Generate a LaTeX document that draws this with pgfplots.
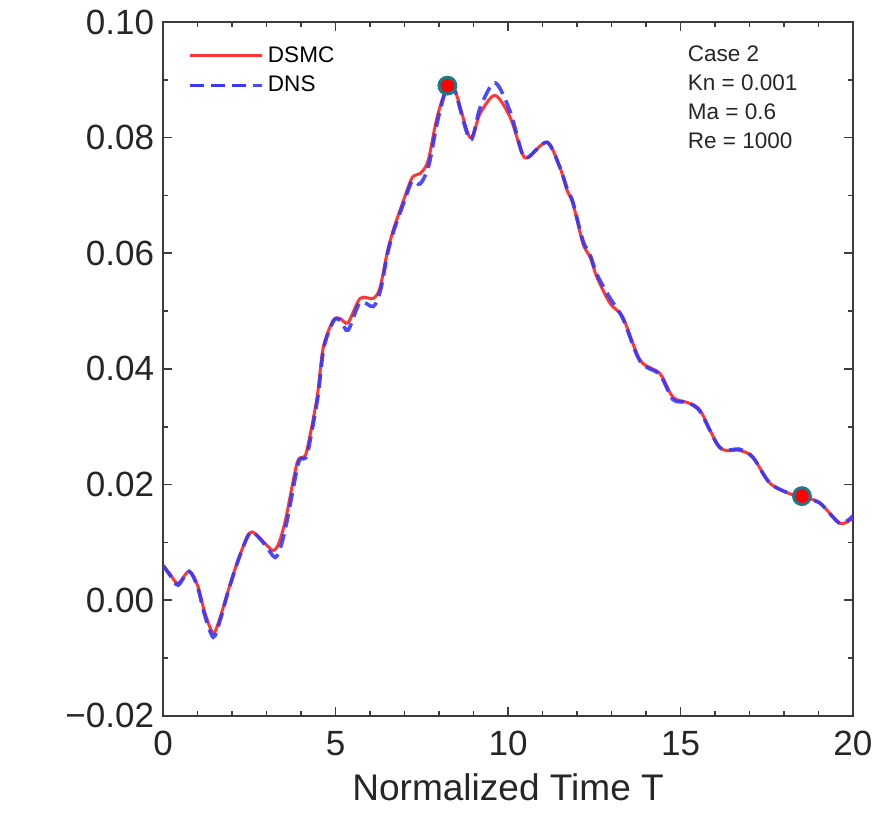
\documentclass[border=0pt]{standalone}
\usepackage{pgfplots}
\pgfplotsset{compat=1.18}
\usepackage{fontspec}
\setmainfont{Liberation Sans}
\definecolor{dsmcred}{RGB}{255,55,55}
\definecolor{dnsblue}{RGB}{55,55,255}
\definecolor{markteal}{RGB}{30,120,140}
\definecolor{axgray}{RGB}{60,60,60}
\begin{document}
\begin{tikzpicture}
\begin{axis}[
  scale only axis,
  width=344.5pt, height=346.5pt,
  xmin=0, xmax=20, ymin=-0.02, ymax=0.10,
  xtick={0,5,10,15,20},
  xticklabels={0,5,10,15,20},
  ytick={-0.02,0,0.02,0.04,0.06,0.08,0.10},
  yticklabels={−0.02,0.00,0.02,0.04,0.06,0.08,0.10},
  minor x tick num=4,
  minor y tick num=1,
  tick align=inside,
  major tick length=4.5pt,
  minor tick length=2.5pt,
  every tick/.style={axgray, line width=0.8pt},
  axis line style={axgray, line width=1.1pt},
  ticklabel style={font=\fontsize{17.5}{20}\selectfont, text=black!85},
  xticklabel style={yshift=-4pt},
  yticklabel style={xshift=-1pt},
  xlabel={Normalized Time T},
  xlabel style={font=\fontsize{18.5}{22}\selectfont, text=black!85, yshift=-2pt},
  legend style={at={(rel axis cs:0.030,0.977)}, anchor=north west, draw=none, fill=none,
    font=\fontsize{11.25}{14}\selectfont, row sep=1.5pt, inner sep=2pt},
  legend cell align=left,
  legend image code/.code={\draw[#1] (0pt,0pt) -- (30pt,0pt); \path (0pt,0pt) -- (36pt,0pt);},
  clip=true,
]
\coordinate (bl) at (rel axis cs:0,0);
\coordinate (tr) at (rel axis cs:1,1);
\addplot[dsmcred, line width=1.5pt, smooth, tension=0.5] coordinates {
(0,0.0060) (0.2,0.0045) (0.43,0.0029) (0.75,0.0050) (1.0,0.0025) (1.2,-0.0020)
(1.45,-0.0057) (1.65,-0.0030) (1.86,0.0012) (2.14,0.0064) (2.43,0.0109) (2.58,0.0118)
(2.81,0.0107) (3.0,0.0095) (3.19,0.0086) (3.35,0.0098) (3.55,0.0140) (3.88,0.0237)
(4.06,0.0247) (4.17,0.0260) (4.46,0.0350) (4.64,0.0437) (4.93,0.0484) (5.13,0.0487)
(5.36,0.0480) (5.71,0.0522) (6.09,0.0522) (6.29,0.0541) (6.49,0.0600) (6.67,0.0640)
(6.96,0.0690) (7.22,0.0731) (7.45,0.0738) (7.68,0.0760) (7.94,0.0835) (8.23,0.0887)
(8.46,0.0882) (8.9,0.0800) (9.19,0.0842) (9.62,0.0873) (10.06,0.0835) (10.4,0.0774)
(10.58,0.0766) (11.13,0.0792) (11.5,0.0749) (11.71,0.0709) (11.88,0.0686) (12.17,0.0617)
(12.38,0.0593) (12.58,0.0558) (12.96,0.0513) (13.33,0.0489) (13.83,0.0415) (14.4,0.0392)
(14.78,0.0351) (15.19,0.0342) (15.57,0.0328) (16.14,0.0264) (16.72,0.0259) (17.1,0.0247)
(17.6,0.0202) (18.26,0.0182) (18.5,0.0180) (19.04,0.0168) (19.62,0.0133) (20,0.0142)
};
\addlegendentry{DSMC}
\addplot[dnsblue, line width=1.8pt, dash pattern=on 7pt off 3.5pt, smooth, tension=0.5, opacity=0.9] coordinates {
(0,0.0060) (0.2,0.0043) (0.43,0.0026) (0.75,0.0050) (1.0,0.0022) (1.2,-0.0025)
(1.45,-0.0064) (1.65,-0.0035) (1.86,0.0010) (2.14,0.0063) (2.43,0.0108) (2.58,0.0118)
(2.81,0.0106) (3.0,0.0092) (3.25,0.0074) (3.42,0.0095) (3.6,0.0140) (3.92,0.0237)
(4.1,0.0245) (4.2,0.0258) (4.48,0.0350) (4.66,0.0437) (4.95,0.0484) (5.15,0.0483)
(5.36,0.0467) (5.71,0.0515) (6.09,0.0508) (6.3,0.0536) (6.5,0.0598) (6.68,0.0638)
(6.98,0.0688) (7.22,0.0725) (7.45,0.0720) (7.7,0.0752) (7.96,0.0830) (8.23,0.0887)
(8.46,0.0880) (8.9,0.0796) (9.19,0.0852) (9.62,0.0895) (10.06,0.0845) (10.4,0.0774)
(10.58,0.0766) (11.13,0.0792) (11.5,0.0749) (11.71,0.0712) (11.88,0.0688) (12.17,0.0622)
(12.38,0.0597) (12.58,0.0563) (12.96,0.0522) (13.33,0.0487) (13.83,0.0413) (14.4,0.0390)
(14.78,0.0347) (15.19,0.0342) (15.57,0.0326) (16.14,0.0264) (16.72,0.0261) (17.1,0.0247)
(17.6,0.0202) (18.26,0.0182) (18.5,0.0178) (19.04,0.0168) (19.62,0.0133) (20,0.0146)
};
\addlegendentry{DNS}
\addplot[only marks, mark=*, mark size=4.2pt, mark options={fill=red, draw=markteal, line width=1.5pt}, forget plot] coordinates {
(8.24,0.0890) (18.52,0.0180)
};
\node[anchor=north west, align=left, font=\fontsize{11.25}{14.5}\selectfont, text=black!85, inner sep=0pt]
  at (rel axis cs:0.760,0.967) {Case 2\\Kn = 0.001\\Ma = 0.6\\Re = 1000};
\end{axis}
\pgfresetboundingbox
\path (bl) ++(-81.5pt,-50pt) rectangle ([shift={(11.5pt,11pt)}]tr);
\end{tikzpicture}
\end{document}
